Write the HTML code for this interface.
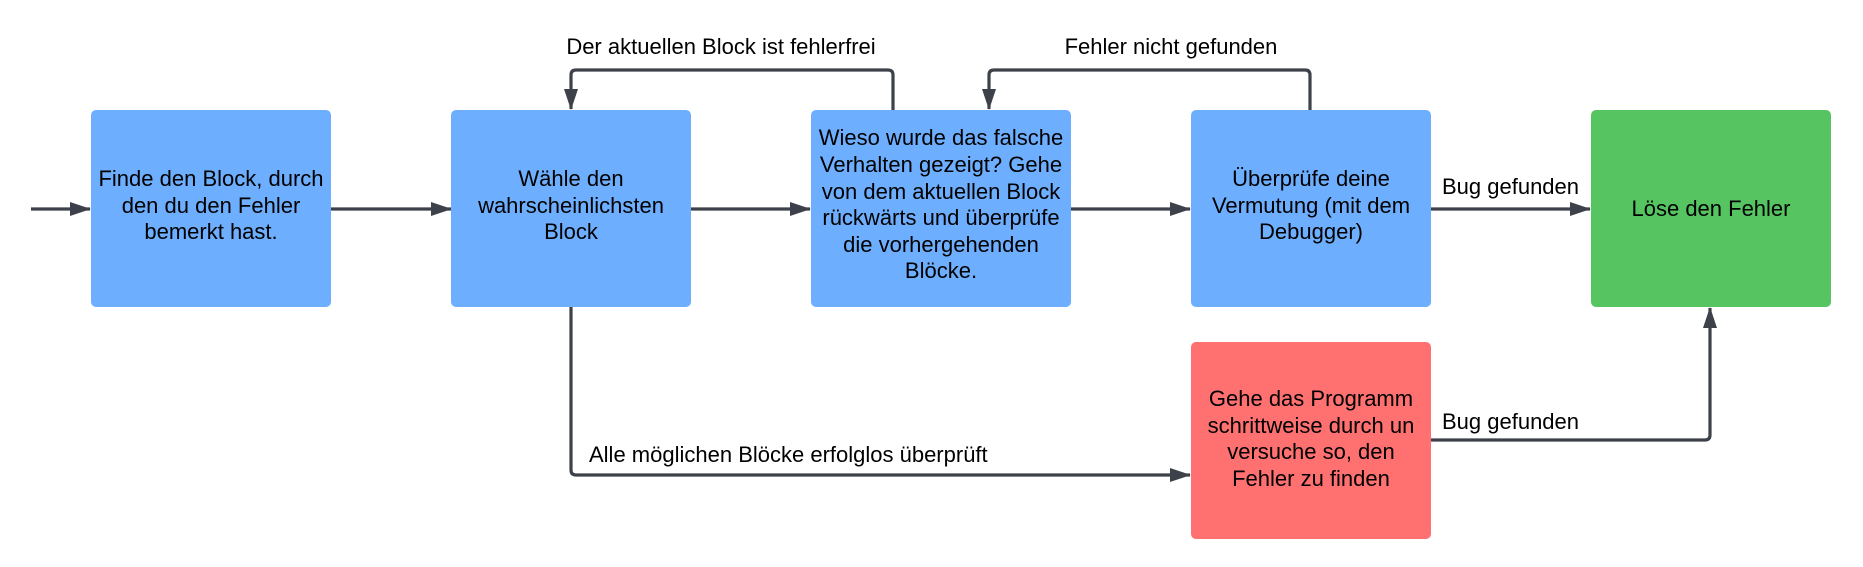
<!DOCTYPE html>
<html><head><meta charset="utf-8"><style>
html,body{margin:0;padding:0;background:#fff;}
svg{display:block;}
text{font-family:"Liberation Sans",Arial,sans-serif;font-size:22px;fill:#000;}
</style></head><body>
<svg width="1863" height="567" viewBox="0 0 1863 567">
<defs>
<marker id="a" markerWidth="21" markerHeight="14" refX="20" refY="7" orient="auto" markerUnits="userSpaceOnUse">
<path d="M0,0 L21,7 L0,14 Z" fill="#3d4149"/>
</marker>
</defs>
<g fill="none" stroke="#3d4149" stroke-width="3.2">
<line x1="31" y1="209" x2="90" y2="209" marker-end="url(#a)"/>
<line x1="331" y1="209" x2="451" y2="209" marker-end="url(#a)"/>
<line x1="691" y1="209" x2="810" y2="209" marker-end="url(#a)"/>
<line x1="1071" y1="209" x2="1190" y2="209" marker-end="url(#a)"/>
<line x1="1431" y1="209" x2="1590" y2="209" marker-end="url(#a)"/>
<path d="M893,110 L893,75 Q893,70 888,70 L576,70 Q571,70 571,75 L571,109" marker-end="url(#a)"/>
<path d="M1310,110 L1310,75 Q1310,70 1305,70 L994,70 Q989,70 989,75 L989,109" marker-end="url(#a)"/>
<path d="M571,307 L571,470 Q571,475 576,475 L1190,475" marker-end="url(#a)"/>
<path d="M1431,440 L1705,440 Q1710,440 1710,435 L1710,308" marker-end="url(#a)"/>
</g>
<rect x="91" y="110" width="240" height="197" rx="5" fill="#6daffe"/>
<rect x="451" y="110" width="240" height="197" rx="5" fill="#6daffe"/>
<rect x="811" y="110" width="260" height="197" rx="5" fill="#6daffe"/>
<rect x="1191" y="110" width="240" height="197" rx="5" fill="#6daffe"/>
<rect x="1591" y="110" width="240" height="197" rx="5" fill="#55c461"/>
<rect x="1191" y="342" width="240" height="197" rx="5" fill="#ff7070"/>
<g text-anchor="middle">
<text x="211" y="186">Finde den Block, durch</text>
<text x="211" y="213">den du den Fehler</text>
<text x="211" y="239">bemerkt hast.</text>
<text x="571" y="186">Wähle den</text>
<text x="571" y="213">wahrscheinlichsten</text>
<text x="571" y="239">Block</text>
<text x="941" y="145">Wieso wurde das falsche</text>
<text x="941" y="172">Verhalten gezeigt? Gehe</text>
<text x="941" y="199">von dem aktuellen Block</text>
<text x="941" y="225">rückwärts und überprüfe</text>
<text x="941" y="252">die vorhergehenden</text>
<text x="941" y="278">Blöcke.</text>
<text x="1311" y="186">Überprüfe deine</text>
<text x="1311" y="213">Vermutung (mit dem</text>
<text x="1311" y="239">Debugger)</text>
<text x="1711" y="216">Löse den Fehler</text>
<text x="1311" y="406">Gehe das Programm</text>
<text x="1311" y="433">schrittweise durch un</text>
<text x="1311" y="459">versuche so, den</text>
<text x="1311" y="486">Fehler zu finden</text>
<text x="721" y="54">Der aktuellen Block ist fehlerfrei</text>
<text x="1171" y="54">Fehler nicht gefunden</text>
</g>
<text x="1442" y="194">Bug gefunden</text>
<text x="1442" y="429">Bug gefunden</text>
<text x="589" y="462">Alle möglichen Blöcke erfolglos überprüft</text>
</svg>
</body></html>
